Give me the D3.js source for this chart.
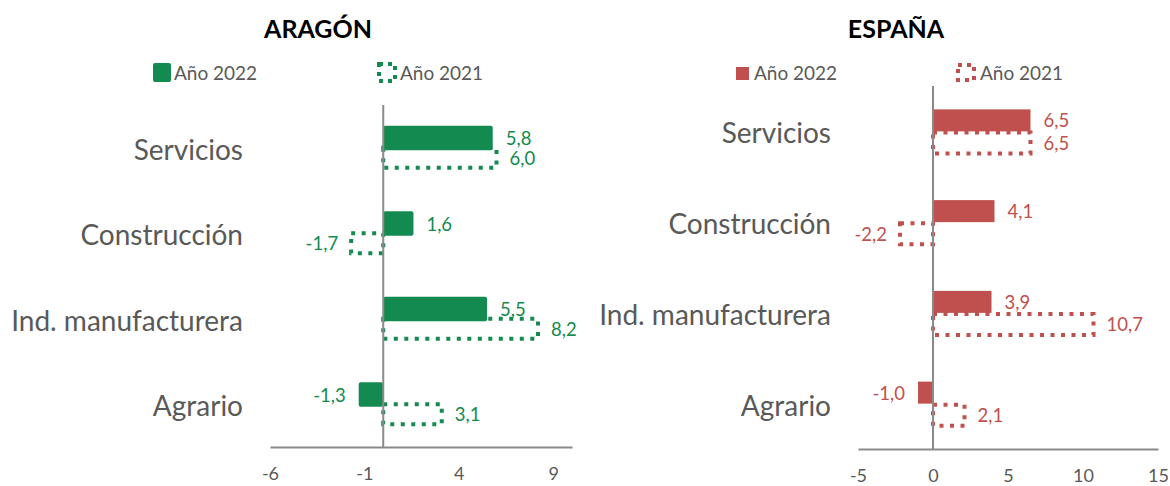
<!DOCTYPE html>
<html>
<head>
<meta charset="utf-8">
<script src="https://cdn.jsdelivr.net/npm/d3@7"></script>
<style>
  body { margin: 0; background: #fff; }
  svg { display: block; font-family: Lato, "Open Sans", sans-serif; }
</style>
</head>
<body>
<div id="chart"></div>
<script>
// data
const categories = ['Servicios', 'Construcción', 'Ind. manufacturera', 'Agrario']
const aragon2022 = [5.8, 1.6, 5.5, -1.3]
const aragon2021 = [6.0, -1.7, 8.2, 3.1]
const espana2022 = [6.5, 4.1, 3.9, -1.0]
const espana2021 = [6.5, -2.2, 10.7, 2.1]
const aragonTicks = [-6, -1, 4, 9]
const espanaTicks = [-5, 0, 5, 10, 15]
const legendLabels = ['Año 2022', 'Año 2021']

const width = 1170, height = 486
const textGray = '#595959'
const axisGray = '#8a8a8a'

// layout of the two panels
const panels = [
  {title: 'ARAGÓN', color: '#138a50', v22: aragon2022, v21: aragon2021, ticks: aragonTicks,
   domain: [-6, 10], xRange: [270, 572], yRange: [105, 447], titleX: 318, labelX: 243,
   bar22: [-22, 24.5], bar21: [0, 20], rx: 2,
   legend: {sq: [153, 63, 18, 19], t1: 174, dot: [379, 64, 16, 17], t2: 400}},
  {title: 'ESPAÑA', color: '#c0504d', v22: espana2022, v21: espana2021, ticks: espanaTicks,
   domain: [-5, 15], xRange: [858, 1158], yRange: [86, 449], titleX: 896, labelX: 831,
   bar22: [-22, 22], bar21: [1, 21], rx: 0,
   legend: {sq: [736, 67, 13, 13], t1: 754, dot: [958, 65, 16, 15], t2: 980}}
]

// comma decimals and plain hyphen for negatives, as in the source chart
const fmt = v => d3.format('.1f')(v).replace('.', ',').replace('−', '-')

const svg = d3.select('#chart').append('svg')
  .attr('width', width)
  .attr('height', height)

panels.forEach(function (p) {
  const g = svg.append('g')
  const x = d3.scaleLinear().domain(p.domain).range(p.xRange)
  const y = d3.scaleBand().domain(categories).range(p.yRange)
  const mid = d => y(d) + y.bandwidth() / 2

  // title
  g.append('text')
    .attr('x', p.titleX).attr('y', 28)
    .attr('text-anchor', 'middle').attr('dominant-baseline', 'central')
    .attr('font-size', 25).attr('font-weight', 'bold').attr('fill', '#000')
    .text(p.title)

  // legend
  const L = p.legend
  g.append('rect')
    .attr('x', L.sq[0]).attr('y', L.sq[1]).attr('width', L.sq[2]).attr('height', L.sq[3])
    .attr('rx', p.rx).attr('fill', p.color)
  g.append('rect')
    .attr('x', L.dot[0]).attr('y', L.dot[1]).attr('width', L.dot[2]).attr('height', L.dot[3])
    .attr('fill', 'none').attr('stroke', p.color).attr('stroke-width', 4)
    .attr('stroke-dasharray', '4 5')
  g.selectAll('.leg').data(legendLabels).enter().append('text')
    .attr('x', (d, i) => i === 0 ? L.t1 : L.t2).attr('y', 72)
    .attr('dominant-baseline', 'central')
    .attr('font-size', 19).attr('fill', textGray)
    .text(d => d)

  // category labels
  g.selectAll('.cat').data(categories).enter().append('text')
    .attr('x', p.labelX).attr('y', d => mid(d) + 1)
    .attr('text-anchor', 'end').attr('dominant-baseline', 'central')
    .attr('font-size', 28).attr('fill', textGray)
    .text(d => d)

  const rows22 = categories.map((c, i) => ({c: c, v: p.v22[i]}))
  const rows21 = categories.map((c, i) => ({c: c, v: p.v21[i]}))

  // 2021 dotted boxes (drawn first, under the solid bars)
  g.selectAll('.b21').data(rows21).enter().append('rect')
    .attr('x', d => x(Math.min(0, d.v)))
    .attr('y', d => mid(d.c) + p.bar21[0])
    .attr('width', d => Math.abs(x(d.v) - x(0)))
    .attr('height', p.bar21[1])
    .attr('fill', 'none').attr('stroke', p.color).attr('stroke-width', 4)
    .attr('stroke-dasharray', '4 6.5')

  // 2022 solid bars
  g.selectAll('.b22').data(rows22).enter().append('rect')
    .attr('x', d => x(Math.min(0, d.v)))
    .attr('y', d => mid(d.c) + p.bar22[0])
    .attr('width', d => Math.abs(x(d.v) - x(0)))
    .attr('height', p.bar22[1])
    .attr('rx', p.rx)
    .attr('fill', p.color)

  // value labels
  function addLabels (rows, off) {
    g.selectAll(null).data(rows).enter().append('text')
      .attr('x', d => x(d.v) + (d.v < 0 ? -13 : 13))
      .attr('y', d => mid(d.c) + off[0] + off[1] / 2)
      .attr('text-anchor', d => d.v < 0 ? 'end' : 'start')
      .attr('dominant-baseline', 'central')
      .attr('font-size', 18.5).attr('fill', p.color)
      .text(d => fmt(d.v))
  }
  addLabels(rows22, p.bar22)
  addLabels(rows21, p.bar21)

  // zero line (category axis) on top of bars
  g.append('line')
    .attr('x1', x(0)).attr('x2', x(0))
    .attr('y1', p.yRange[0]).attr('y2', p.yRange[1])
    .attr('stroke', axisGray).attr('stroke-width', 2)

  // value axis
  const xAxis = d3.axisBottom(x).tickValues(p.ticks).tickSize(0).tickPadding(20)
    .tickFormat(d => String(d))
  const ax = g.append('g')
    .attr('transform', `translate(0,${p.yRange[1]})`)
    .call(xAxis)
  ax.select('.domain').attr('stroke', axisGray).attr('stroke-width', 2)
  ax.selectAll('text')
    .attr('font-size', 18).attr('fill', textGray)
    .attr('font-family', 'Lato, "Open Sans", sans-serif')
})
</script>
</body>
</html>
